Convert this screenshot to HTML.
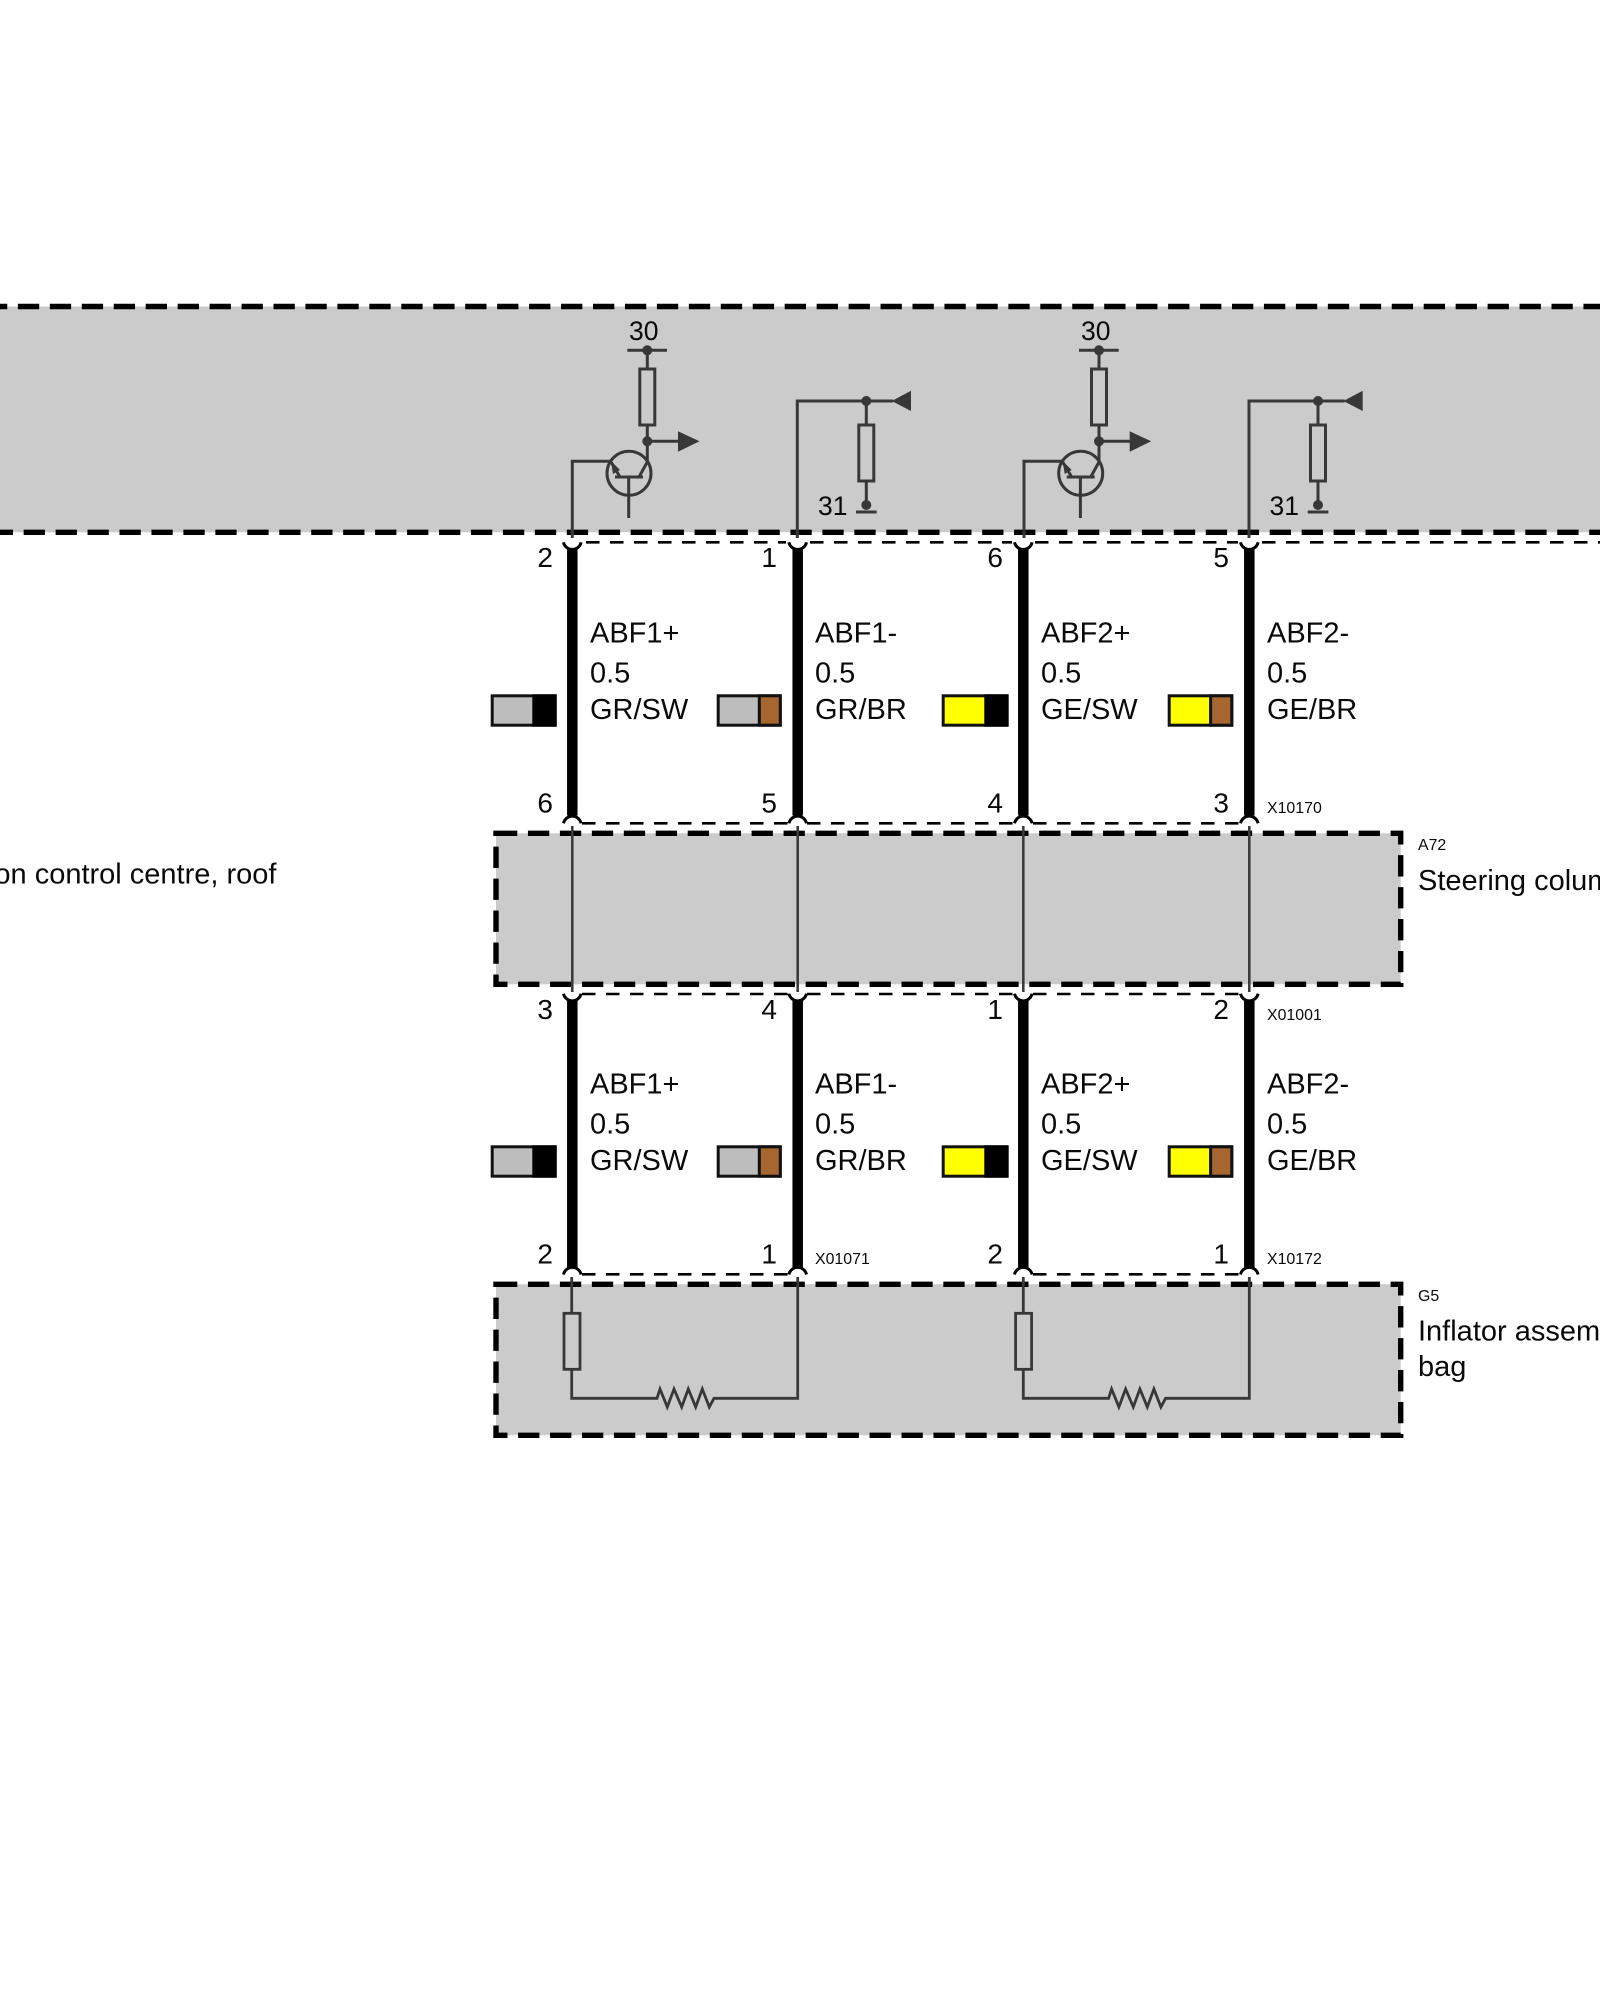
<!DOCTYPE html>
<html><head><meta charset="utf-8"><style>
html,body{margin:0;padding:0;background:#fff}
svg{display:block}
text{font-family:"Liberation Sans",sans-serif;fill:#0a0a0a}
.l{font-size:29px}.p{font-size:28px}.t{font-size:26.5px}.s{font-size:15.9px}
</style></head><body>
<svg width="1600" height="2000" viewBox="0 0 1600 2000" xmlns="http://www.w3.org/2000/svg">
<defs>
<g id="upper" fill="none" stroke="#383838" stroke-width="3">
  <path d="M572.3 538V461.3H610"/>
  <circle cx="629" cy="473.3" r="22"/>
  <path d="M647.3 350.3V369M647.3 425V462L639 477M615 477H643M628.7 477V518M611 462L620 477"/>
  <rect x="639.8" y="369" width="15" height="56"/>
  <path d="M627.3 350.3H667M647.3 441.3H680"/>
  <path d="M797.3 538V401H893M866.3 401V425M866.3 481V505M856 512H876.7"/>
  <rect x="858.8" y="425" width="15" height="56"/>
  <g fill="#383838" stroke="none">
    <circle cx="647.3" cy="350.3" r="5"/>
    <circle cx="647.3" cy="441.3" r="5"/>
    <path d="M678 431.3L699.5 441.3L678 451.7Z"/>
    <path d="M611 461L620 470L613 474Z"/>
    <circle cx="866.3" cy="401" r="5"/>
    <circle cx="866.3" cy="505" r="5"/>
    <path d="M891.7 401L911 390.7V411Z"/>
  </g>
</g>
<g id="capTop" fill="none" stroke="#000" stroke-width="3"><path d="M-8.8 -1.5A9 9 0 0 1 8.8 -1.5"/></g>
<g id="capBot" fill="none" stroke="#000" stroke-width="3"><path d="M-8.8 2A9 9 0 0 0 8.8 2"/></g>
<g id="lowerR" fill="none" stroke="#383838" stroke-width="2.8">
  <path d="M571.7 1277V1313.3M571.7 1369.3V1398.3H657L660 1389L667.3 1407L674 1389L681.7 1407L688.3 1389L695.7 1407L702.3 1389L709.3 1407L714 1398.3H797.7V1277"/>
  <rect x="564" y="1313.3" width="16" height="56"/>
</g>
<g id="swK"><rect x="492.2" y="695.8" width="63" height="29.4" fill="#bdbdbd" stroke="#111" stroke-width="3"/><rect x="532.3" y="694.3" width="24.4" height="32.4" fill="#000"/></g>
<g id="swB"><rect x="718.2" y="695.8" width="62" height="29.4" fill="#bdbdbd" stroke="#111" stroke-width="3"/><rect x="759.3" y="695.8" width="21" height="29.4" fill="#a5672f" stroke="#111" stroke-width="3"/></g>
<g id="syK"><rect x="943.2" y="695.8" width="63" height="29.4" fill="#ffff00" stroke="#111" stroke-width="3"/><rect x="984.3" y="694.3" width="24.4" height="32.4" fill="#000"/></g>
<g id="syB"><rect x="1169.2" y="695.8" width="62.6" height="29.4" fill="#ffff00" stroke="#111" stroke-width="3"/><rect x="1210.6" y="695.8" width="21.2" height="29.4" fill="#a5672f" stroke="#111" stroke-width="3"/></g>
</defs>

<!-- grey boxes -->
<rect x="0" y="306.5" width="1600" height="225.8" fill="#cbcbcb"/>
<rect x="496" y="833.3" width="904.7" height="151" fill="#cbcbcb"/>
<rect x="496" y="1284.3" width="904.7" height="151" fill="#cbcbcb"/>

<!-- dashed borders -->
<g fill="none" stroke="#000" stroke-width="5.4">
  <path d="M-14.05 306.5H1600" stroke-dasharray="21.3 10.65"/>
  <path d="M-8.3 532.3H1600" stroke-dasharray="21.3 10.65"/>
  <rect x="496" y="833.3" width="904.7" height="151" stroke-dasharray="21.3 10.65"/>
  <rect x="496" y="1284.3" width="904.7" height="151" stroke-dasharray="21.3 10.65"/>
</g>

<!-- thin wires -->
<g stroke="#3c3c3c" stroke-width="2.6" fill="none">
  <path d="M572.3 826V992M797.7 826V992M1023.3 826V992M1249.3 826V992"/>
</g>
<use href="#upper"/>
<use href="#upper" x="451.7"/>
<use href="#lowerR"/>
<use href="#lowerR" x="451.6"/>

<!-- thin dashed connector lines -->
<g fill="none" stroke="#000" stroke-width="2.6" stroke-dasharray="13.5 10.5">
  <path d="M586 542.3H786M810 542.3H1012M1035 542.3H1238M1262 542.3H1600"/>
  <path d="M582 823.3H788M807 823.3H1014M1033 823.3H1240"/>
  <path d="M582 994H788M807 994H1014M1033 994H1240"/>
  <path d="M582 1274.3H788M1033 1274.3H1240"/>
</g>

<!-- thick wires -->
<g stroke="#000" stroke-width="10.5" fill="none">
  <path d="M572.3 549.5V815.5M797.7 549.5V815.5M1023.3 549.5V815.5M1249.3 549.5V815.5"/>
  <path d="M572.3 1001V1267.5M797.7 1001V1267.5M1023.3 1001V1267.5M1249.3 1001V1267.5"/>
</g>

<!-- caps -->
<use href="#capBot" x="572.3" y="540.3"/><use href="#capBot" x="797.7" y="540.3"/><use href="#capBot" x="1023.3" y="540.3"/><use href="#capBot" x="1249.3" y="540.3"/>
<use href="#capTop" x="572.3" y="824.8"/><use href="#capTop" x="797.7" y="824.8"/><use href="#capTop" x="1023.3" y="824.8"/><use href="#capTop" x="1249.3" y="824.8"/>
<use href="#capBot" x="572.3" y="991.7"/><use href="#capBot" x="797.7" y="991.7"/><use href="#capBot" x="1023.3" y="991.7"/><use href="#capBot" x="1249.3" y="991.7"/>
<use href="#capTop" x="572.3" y="1276"/><use href="#capTop" x="797.7" y="1276"/><use href="#capTop" x="1023.3" y="1276"/><use href="#capTop" x="1249.3" y="1276"/>

<!-- swatches -->
<use href="#swK"/><use href="#swB"/><use href="#syK"/><use href="#syB"/>
<use href="#swK" y="451"/><use href="#swB" y="451"/><use href="#syK" y="451"/><use href="#syB" y="451"/>

<!-- labels in top box -->
<text class="t" x="629" y="340">30</text>
<text class="t" x="1081" y="340">30</text>
<text class="t" x="818" y="515">31</text>
<text class="t" x="1269.5" y="515">31</text>

<!-- pin numbers -->
<text class="p" x="553" y="567" text-anchor="end">2</text><text class="p" x="777" y="567" text-anchor="end">1</text><text class="p" x="1003" y="567" text-anchor="end">6</text><text class="p" x="1229" y="567" text-anchor="end">5</text>
<text class="p" x="553" y="812.5" text-anchor="end">6</text><text class="p" x="777" y="812.5" text-anchor="end">5</text><text class="p" x="1003" y="812.5" text-anchor="end">4</text><text class="p" x="1229" y="812.5" text-anchor="end">3</text>
<text class="p" x="553" y="1019" text-anchor="end">3</text><text class="p" x="777" y="1019" text-anchor="end">4</text><text class="p" x="1003" y="1019" text-anchor="end">1</text><text class="p" x="1229" y="1019" text-anchor="end">2</text>
<text class="p" x="553" y="1263.5" text-anchor="end">2</text><text class="p" x="777" y="1263.5" text-anchor="end">1</text><text class="p" x="1003" y="1263.5" text-anchor="end">2</text><text class="p" x="1229" y="1263.5" text-anchor="end">1</text>

<!-- wire labels -->
<text class="l" x="590" y="642.7">ABF1+</text><text class="l" x="590" y="682.3">0.5</text><text class="l" x="590" y="719">GR/SW</text>
<text class="l" x="815" y="642.7">ABF1-</text><text class="l" x="815" y="682.3">0.5</text><text class="l" x="815" y="719">GR/BR</text>
<text class="l" x="1041" y="642.7">ABF2+</text><text class="l" x="1041" y="682.3">0.5</text><text class="l" x="1041" y="719">GE/SW</text>
<text class="l" x="1267" y="642.7">ABF2-</text><text class="l" x="1267" y="682.3">0.5</text><text class="l" x="1267" y="719">GE/BR</text>

<text class="l" x="590" y="1093.7">ABF1+</text><text class="l" x="590" y="1133.3">0.5</text><text class="l" x="590" y="1170">GR/SW</text>
<text class="l" x="815" y="1093.7">ABF1-</text><text class="l" x="815" y="1133.3">0.5</text><text class="l" x="815" y="1170">GR/BR</text>
<text class="l" x="1041" y="1093.7">ABF2+</text><text class="l" x="1041" y="1133.3">0.5</text><text class="l" x="1041" y="1170">GE/SW</text>
<text class="l" x="1267" y="1093.7">ABF2-</text><text class="l" x="1267" y="1133.3">0.5</text><text class="l" x="1267" y="1170">GE/BR</text>

<!-- connector codes -->
<text class="s" x="1267" y="813">X10170</text>
<text class="s" x="1267" y="1020">X01001</text>
<text class="s" x="815" y="1264">X01071</text>
<text class="s" x="1267" y="1264">X10172</text>
<text class="s" x="1418" y="850">A72</text>
<text class="s" x="1418" y="1301">G5</text>

<!-- component names -->
<text class="l" x="1418" y="890">Steering column</text>
<text class="l" x="1418" y="1340.7">Inflator assembly</text>
<text class="l" x="1418" y="1376">bag</text>
<text class="l" x="276.5" y="883.3" text-anchor="end">on control centre, roof</text>
</svg>
</body></html>
